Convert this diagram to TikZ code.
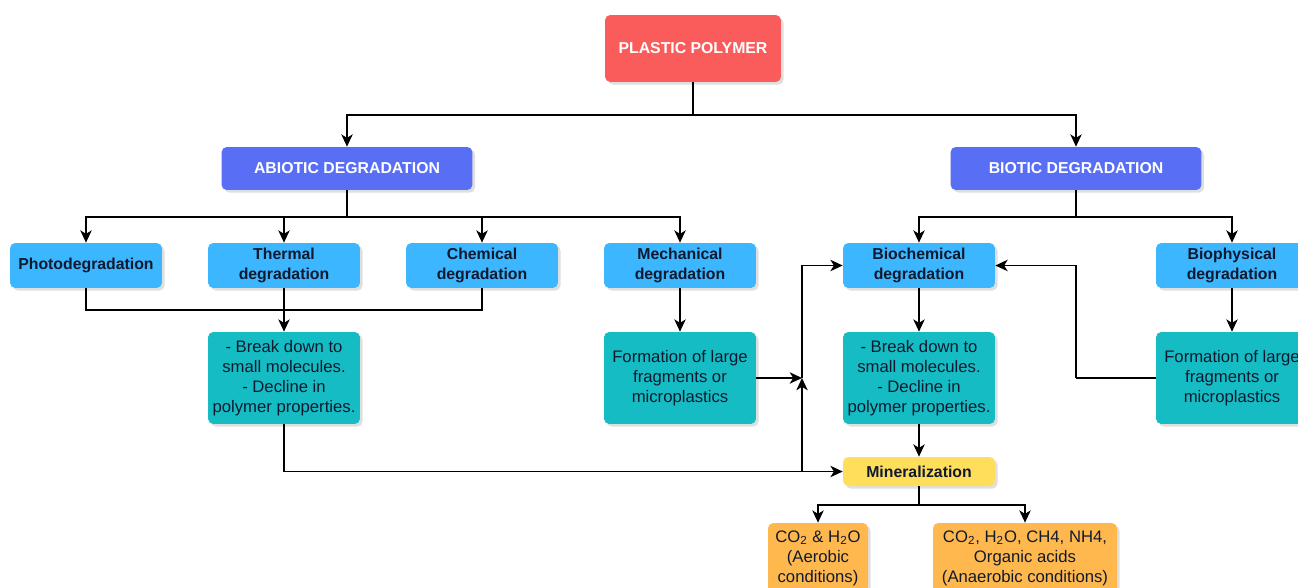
\documentclass[tikz,border=0pt]{standalone}
\usepackage{fontspec}
\setmainfont{Liberation Sans}
\usetikzlibrary{arrows.meta, positioning, shadows}
\definecolor{polyred}{RGB}{250,92,92}
\definecolor{degblue}{RGB}{88,110,245}
\definecolor{procblue}{RGB}{60,182,255}
\definecolor{resteal}{RGB}{22,188,196}
\definecolor{minyellow}{RGB}{255,222,92}
\definecolor{prodorange}{RGB}{255,184,78}
\definecolor{boxtext}{RGB}{16,26,46}

\begin{document}
\begin{tikzpicture}[x=0.02cm, y=-0.02cm,
    box/.style={rectangle, rounded corners=3pt, inner sep=1pt, align=center, text=boxtext,
                drop shadow={shadow xshift=1.5pt, shadow yshift=-1.5pt, opacity=0.25}},
    head/.style={box, fill=degblue, text=white, minimum width=5.02cm, minimum height=0.86cm,
                 font=\fontsize{9}{11}\selectfont\bfseries},
    proc/.style={box, fill=procblue, minimum width=3.04cm, minimum height=0.9cm,
                 font=\fontsize{9}{11}\selectfont\bfseries},
    res/.style={box, fill=resteal, minimum width=3.04cm, minimum height=1.84cm,
                font=\fontsize{9.5}{11.4}\selectfont},
    prod/.style={box, fill=prodorange, minimum height=1.4cm,
                 font=\fontsize{9.5}{11.4}\selectfont},
    arr/.style={-{Stealth[length=7pt, width=6.5pt, inset=2pt]}, line width=0.8pt},
    line/.style={line width=0.8pt}
]
\useasboundingbox (0,0) rectangle (1298,588);

% top levels
\node[box, fill=polyred, text=white, minimum width=3.52cm, minimum height=1.34cm,
      font=\fontsize{9}{11}\selectfont\bfseries] (pp) at (693,48.5) {PLASTIC POLYMER};
\node[head] (abio) at (347,168.5) {ABIOTIC DEGRADATION};
\node[head] (bio) at (1076,168.5) {BIOTIC DEGRADATION};

% degradation types
\foreach \n/\x/\t in {photo/86/Photodegradation, therm/284/{Thermal\\degradation},
                      chem/482/{Chemical\\degradation}, mech/680/{Mechanical\\degradation},
                      bchem/919/{Biochemical\\degradation}, bphys/1232/{Biophysical\\degradation}}{
    \node[proc] (\n) at (\x,265.5) {\t};
}

% results
\node[res] (res1) at (284,378) {- Break down to\\small molecules.\\- Decline in\\polymer properties.};
\node[res] (frag1) at (680,378) {Formation of large\\fragments or\\microplastics};
\node[res] (res2) at (919,378) {- Break down to\\small molecules.\\- Decline in\\polymer properties.};
\node[res] (frag2) at (1232,378) {Formation of large\\fragments or\\microplastics};

\node[box, fill=minyellow, minimum width=3.04cm, minimum height=0.58cm,
      font=\fontsize{9}{11}\selectfont\bfseries] (minl) at (919,471.5) {Mineralization};
\node[prod, minimum width=2cm] (aer) at (818,558) {CO\textsubscript{2} \& H\textsubscript{2}O\\(Aerobic\\conditions)};
\node[prod, minimum width=3.68cm] (anaer) at (1025,558) {CO\textsubscript{2}, H\textsubscript{2}O, CH4, NH4,\\Organic acids\\(Anaerobic conditions)};

% junctions
\coordinate (j0) at (693,115);
\coordinate (ja) at (347,217);
\coordinate (jb) at (1076,217);
\coordinate (jc) at (284,310);
\coordinate (jd) at (802,471.5);
\coordinate (je) at (802,378);
\coordinate (jf) at (1076,378);
\coordinate (jg) at (919,505);

% tree links
\draw[line] (pp) -- (j0);
\draw[arr] (j0) -| (abio);
\draw[arr] (j0) -| (bio);
\draw[line] (abio) -- (ja);
\foreach \n in {photo,therm,chem,mech}{
    \draw[arr] (ja) -| (\n);
}
\draw[line] (bio) -- (jb);
\foreach \n in {bchem,bphys}{
    \draw[arr] (jb) -| (\n);
}

% abiotic side
\draw[line] (photo) |- (jc);
\draw[line] (chem) |- (jc);
\draw[arr] (therm) -- (res1);
\draw[arr] (mech) -- (frag1);
\draw[arr] (res1) |- (minl);
\draw[arr] (frag1) -- (je);
\draw[arr] (jd) -- (je);
\draw[arr] (je) |- (bchem);

% biotic side
\draw[arr] (bchem) -- (res2);
\draw[arr] (res2) -- (minl);
\draw[arr] (bphys) -- (frag2);
\draw[line] (frag2) -- (jf);
\draw[arr] (jf) |- (bchem);

% mineralization products
\draw[line] (minl) -- (jg);
\draw[arr] (jg) -| (aer);
\draw[arr] (jg) -| (anaer);
\end{tikzpicture}
\end{document}
